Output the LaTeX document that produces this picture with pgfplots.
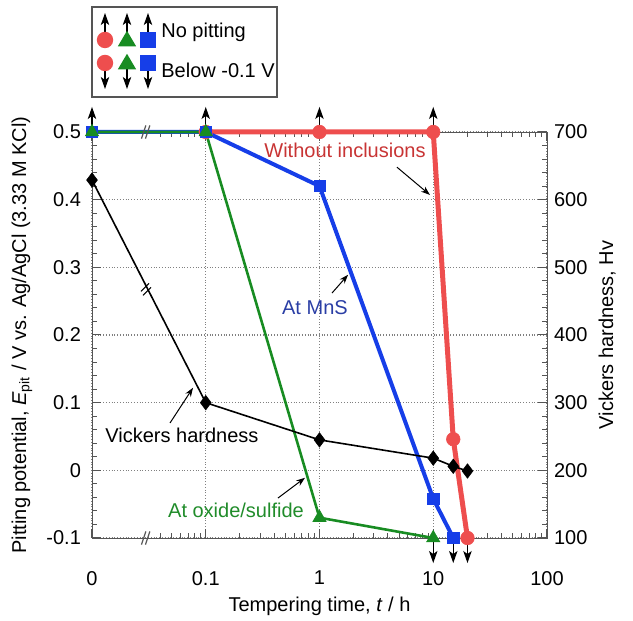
\documentclass[border=0pt]{standalone}
\usepackage{fontspec}
\setmainfont{Liberation Sans}
\usepackage{pgfplots}
\pgfplotsset{compat=1.18}
\usetikzlibrary{arrows.meta}

\definecolor{redc}{RGB}{238,78,78}
\definecolor{bluec}{RGB}{22,62,232}
\definecolor{greenc}{RGB}{24,140,34}
\definecolor{redtxt}{RGB}{200,52,52}
\definecolor{bluetxt}{RGB}{42,62,165}
\definecolor{greentxt}{RGB}{32,140,42}
\definecolor{axgray}{RGB}{85,85,85}

\tikzset{
  arr/.style={black, line width=0.6pt, -{Stealth[length=6pt,width=4.2pt,inset=1.5pt]}},
  note/.style={black, line width=0.5pt, -{Stealth[length=4.5pt,width=3.2pt]}},
}

% x is drawn as u = log10(t)+1 (t = 0 sits at u = -1, axis broken)
\pgfplotsset{
  base/.style={
    at={(0,0)}, anchor=south west,
    scale only axis, width=227.5pt, height=203pt,
    xmin=-1, xmax=3,
    clip=false,
    tick align=inside,
    major tick length=4.5pt, minor tick length=2.5pt,
    axis line style={axgray}, tick style={axgray, line width=0.5pt},
    tick label style={font=\fontsize{10}{12}\selectfont},
    label style={font=\fontsize{10}{12}\selectfont},
    /pgf/number format/assume math mode=true,
  },
}

\begin{document}
\begin{tikzpicture}[font=\fontsize{10}{12}\selectfont]
\begin{axis}[
  base,
  ymin=-0.1, ymax=0.5,
  xtick={-1,0,1,2,3},
  xticklabels={0,0.1,1,10,100},
  minor xtick={-0.398,-0.301,-0.222,-0.155,-0.097,-0.046,
    0.301,0.477,0.602,0.699,0.778,0.845,0.903,0.954,
    1.301,1.477,1.602,1.699,1.778,1.845,1.903,1.954,
    2.301,2.477,2.602,2.699,2.778,2.845,2.903,2.954},
  xtick pos=both, xticklabel pos=lower,
  xticklabel style={yshift=-13pt},
  ytick={-0.1,0,0.1,0.2,0.3,0.4,0.5},
  yticklabels={-0.1,0,0.1,0.2,0.3,0.4,0.5},
  minor y tick num=4,
  ytick pos=left,
  yticklabel style={xshift=-2pt},
  grid=major, grid style={densely dotted, gray, line width=0.6pt},
  xlabel={Tempering time, \textit{t} / h},
  xlabel style={at={(axis description cs:0.5,-0.1675)}, anchor=center},
  ylabel={Pitting potential, \textit{E}\textsubscript{pit} / V vs. Ag/AgCl (3.33 M KCl)},
  ylabel style={at={(axis description cs:-0.154,0.5)}, anchor=center},
]
% arrows: no pitting up to 0.5 V / pitting below -0.1 V
\addplot[arr, no marks, quiver={u=0, v=0.037}]
  coordinates {(-1,0.5) (0,0.5) (1,0.5) (2,0.5)};
\addplot[arr, no marks, quiver={u=0, v=-0.037}]
  coordinates {(2,-0.1) (2.176,-0.1) (2.301,-0.1)};

% without inclusions (t = 0.1, 1, 10, 15, 20 h)
\addplot[redc, line width=2.5pt, mark=*, mark size=3.4pt,
  mark options={solid, line width=0.3pt, fill=redc}]
  coordinates {(0,0.5) (1,0.5) (2,0.5) (2.176,0.046) (2.301,-0.1)};
% at MnS (t = 0, 0.1, 1, 10, 15 h)
\addplot[bluec, line width=2pt, mark=square*, mark size=2.8pt,
  mark options={solid, line width=0.3pt, fill=bluec}]
  coordinates {(-1,0.5) (0,0.5) (1,0.42) (2,-0.042) (2.176,-0.1)};
% at oxide/sulfide (t = 0, 0.1, 1, 10 h)
\addplot[greenc, line width=1.3pt, mark=triangle*, mark size=3.8pt,
  mark options={solid, line width=0.3pt, fill=greenc}]
  coordinates {(-1,0.5) (0,0.5) (1,-0.07) (2,-0.1)};

% annotations
\node[text=redtxt] at (axis cs:1.224,0.473) {Without inclusions};
\draw[note] (axis cs:1.681,0.448) -- (axis cs:1.971,0.407);
\node[text=bluetxt] at (axis cs:0.96,0.241) {At MnS};
\draw[note] (axis cs:1.11,0.262) -- (axis cs:1.251,0.289);
\node[text=black] at (axis cs:-0.209,0.052) {Vickers hardness};
\draw[note] (axis cs:-0.314,0.07) -- (axis cs:-0.112,0.122);
\node[text=greentxt] at (axis cs:0.266,-0.059) {At oxide/sulfide};
\draw[note] (axis cs:0.635,-0.041) -- (axis cs:0.873,-0.011);
\end{axis}

\begin{axis}[
  base,
  ymin=100, ymax=700,
  axis x line=none,
  axis y line*=right,
  ytick={100,200,...,700},
  minor y tick num=4,
  ylabel={Vickers hardness, Hv},
  ylabel style={at={(axis description cs:1.132,0.5)}, anchor=center},
]
% Vickers hardness, Hv (t = 0, 0.1, 1, 10, 15, 20 h)
\addplot[black, line width=0.8pt, mark=diamond*, mark size=3.6pt,
  mark options={solid, line width=0.3pt, fill=black}]
  coordinates {(-1,629) (0,300) (1,245) (2,218) (2.176,206) (2.301,199)};

% axis break marks
\draw[axgray, line width=0.6pt] ([xshift=-2.8pt,yshift=-3.3pt]axis cs:-0.516,700) -- ++(2.2pt,6.6pt);
\draw[axgray, line width=0.6pt] ([xshift=-0.8pt,yshift=-3.3pt]axis cs:-0.516,700) -- ++(2.2pt,6.6pt);
\draw[axgray, line width=0.6pt] ([xshift=-2.8pt,yshift=-3.3pt]axis cs:-0.516,100) -- ++(2.2pt,6.6pt);
\draw[axgray, line width=0.6pt] ([xshift=-0.8pt,yshift=-3.3pt]axis cs:-0.516,100) -- ++(2.2pt,6.6pt);
\draw[black, line width=0.6pt] ([xshift=-3pt,yshift=-1.5pt]axis cs:-0.516,469) -- ++(4pt,4pt);
\draw[black, line width=0.6pt] ([xshift=-2pt,yshift=-3.5pt]axis cs:-0.516,469) -- ++(4pt,4pt);
\end{axis}

% legend key (arrows up: no pitting, arrows down: below -0.1 V)
\draw[axgray, line width=0.6pt, fill=white] (0,220.5pt) rectangle (92.5pt,265.5pt);
\foreach \x in {6.5pt,17.5pt,28pt} {
  \draw[arr] (\x,249pt) -- (\x,262.5pt);
  \draw[arr] (\x,237.5pt) -- (\x,224.5pt);
}
\foreach \y in {249pt,237.5pt} {
  \fill[redc] (6.5pt,\y) circle (4.1pt);
  \fill[greenc] (17.5pt,\y) ++(0,4.6pt) -- ++(4.6pt,-7.8pt) -- ++(-9.2pt,0) -- cycle;
  \fill[bluec] (28pt,\y) ++(-4pt,-4pt) rectangle ++(8pt,8pt);
}
\node[anchor=west, inner sep=0pt] at (34.5pt,253pt) {No pitting};
\node[anchor=west, inner sep=0pt] at (34.5pt,234pt) {Below -0.1 V};

\pgfresetboundingbox
\path[use as bounding box] (-46pt,-41.5pt) rectangle (270.5pt,269pt);
\end{tikzpicture}
\end{document}
